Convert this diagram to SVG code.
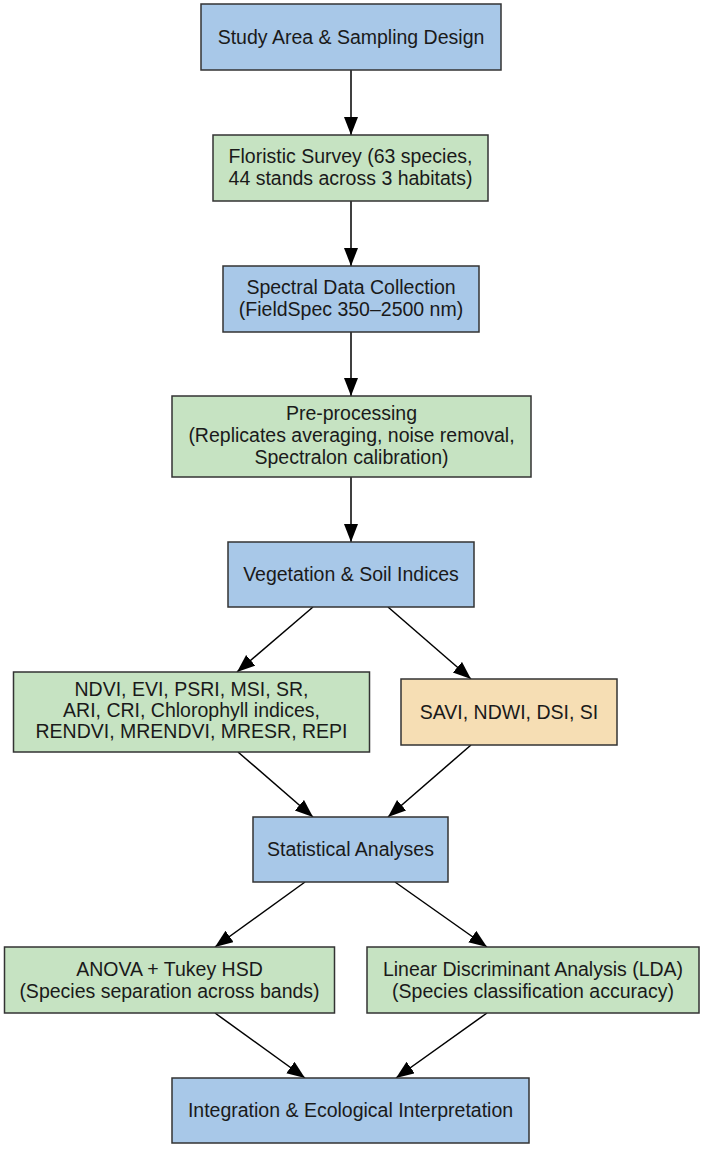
<svg xmlns="http://www.w3.org/2000/svg" width="706" height="1149" viewBox="0 0 706 1149">
<style>
  .box { stroke: #333333; stroke-width: 1.5; }
  .blue { fill: #a8c8e8; }
  .green { fill: #c6e3c2; }
  .orange { fill: #f6deb4; }
  text { font-family: "Liberation Sans", Arial, sans-serif; font-size: 19.5px; fill: #1a1a1a; text-anchor: middle; }
  .edge { stroke: #000000; stroke-width: 1.5; fill: none; marker-end: url(#arrow); }
</style>
<defs>
  <marker id="arrow" markerUnits="userSpaceOnUse" markerWidth="19" markerHeight="15" refX="18" refY="7" orient="auto">
    <path d="M0,0 L18,7 L0,14 Z" fill="#000000"/>
  </marker>
</defs>
<rect width="706" height="1149" fill="#ffffff"/>
<g id="connectors">
  <line class="edge" x1="351" y1="70" x2="351" y2="135"/>
  <line class="edge" x1="351" y1="201" x2="351" y2="266"/>
  <line class="edge" x1="351" y1="332" x2="351" y2="396"/>
  <line class="edge" x1="351" y1="477" x2="351" y2="542"/>
  <line class="edge" x1="313" y1="607" x2="237" y2="672"/>
  <line class="edge" x1="388" y1="607" x2="471" y2="679"/>
  <line class="edge" x1="238" y1="752" x2="313" y2="817"/>
  <line class="edge" x1="471" y1="745" x2="388" y2="817"/>
  <line class="edge" x1="305" y1="882" x2="215" y2="947"/>
  <line class="edge" x1="395" y1="882" x2="487" y2="947"/>
  <line class="edge" x1="215" y1="1013" x2="305" y2="1078"/>
  <line class="edge" x1="487" y1="1013" x2="396" y2="1078"/>
</g>
<g id="n1">
  <rect class="box blue" x="201" y="4" width="300" height="66"/>
  <text x="351" y="44">Study Area &amp; Sampling Design</text>
</g>
<g id="n2">
  <rect class="box green" x="213" y="135" width="275" height="66"/>
  <text x="350.5" y="163">Floristic Survey (63 species,</text>
  <text x="350.5" y="185">44 stands across 3 habitats)</text>
</g>
<g id="n3">
  <rect class="box blue" x="223" y="266" width="256" height="66"/>
  <text x="351" y="294">Spectral Data Collection</text>
  <text x="351" y="316">(FieldSpec 350–2500 nm)</text>
</g>
<g id="n4">
  <rect class="box green" x="172" y="396" width="359" height="81"/>
  <text x="351.5" y="420">Pre-processing</text>
  <text x="351.5" y="442">(Replicates averaging, noise removal,</text>
  <text x="351.5" y="464">Spectralon calibration)</text>
</g>
<g id="n5">
  <rect class="box blue" x="228" y="542" width="246" height="65"/>
  <text x="351" y="581">Vegetation &amp; Soil Indices</text>
</g>
<g id="n6">
  <rect class="box green" x="13.5" y="672" width="356" height="80"/>
  <text x="191.5" y="696">NDVI, EVI, PSRI, MSI, SR,</text>
  <text x="191.5" y="717">ARI, CRI, Chlorophyll indices,</text>
  <text x="191.5" y="738">RENDVI, MRENDVI, MRESR, REPI</text>
</g>
<g id="n7">
  <rect class="box orange" x="401" y="679" width="216" height="66"/>
  <text x="509" y="719">SAVI, NDWI, DSI, SI</text>
</g>
<g id="n8">
  <rect class="box blue" x="253" y="817" width="195" height="65"/>
  <text x="350.5" y="856">Statistical Analyses</text>
</g>
<g id="n9">
  <rect class="box green" x="4.5" y="947" width="330" height="66"/>
  <text x="169.5" y="976">ANOVA + Tukey HSD</text>
  <text x="169.5" y="998">(Species separation across bands)</text>
</g>
<g id="n10">
  <rect class="box green" x="367" y="947" width="332" height="66"/>
  <text x="533" y="976">Linear Discriminant Analysis (LDA)</text>
  <text x="533" y="998">(Species classification accuracy)</text>
</g>
<g id="n11">
  <rect class="box blue" x="172" y="1078" width="357" height="65"/>
  <text x="350.5" y="1117">Integration &amp; Ecological Interpretation</text>
</g>
</svg>
